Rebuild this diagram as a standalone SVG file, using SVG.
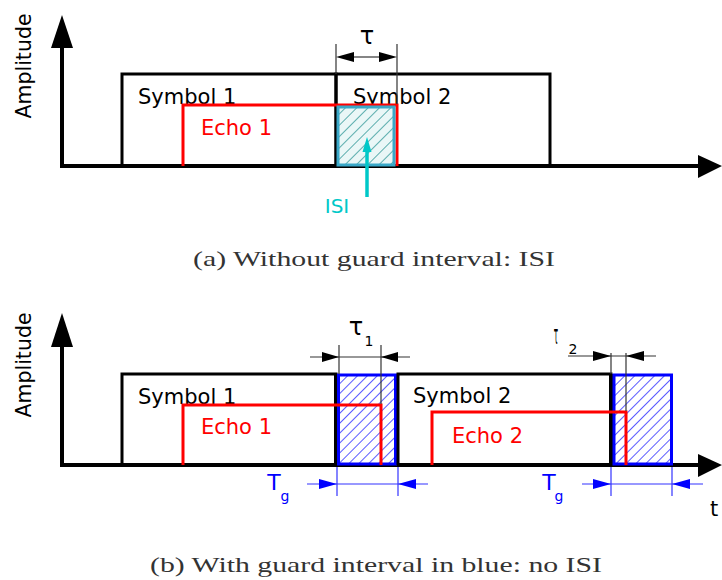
<svg xmlns="http://www.w3.org/2000/svg" width="722" height="580" viewBox="0 0 722 580">
  <defs>
    <pattern id="hatchTeal" patternUnits="userSpaceOnUse" width="8" height="8" patternTransform="rotate(45)">
      <rect width="8" height="8" fill="#eaf7f7"/>
      <line x1="0" y1="0" x2="0" y2="8" stroke="#1f8f8f" stroke-width="1.4"/>
    </pattern>
    <pattern id="hatchBlue" patternUnits="userSpaceOnUse" width="7" height="7" patternTransform="rotate(45)">
      <rect width="7" height="7" fill="#ffffff"/>
      <line x1="0" y1="0" x2="0" y2="7" stroke="#0000ff" stroke-width="1.3"/>
    </pattern>
  </defs>
  <style>
    .axis { stroke: #000; stroke-width: 4; fill: none; }
    .sym { stroke: #000; stroke-width: 3; fill: none; }
    .echo { stroke: #ff0000; stroke-width: 3; fill: none; }
    .dim { stroke: #333; stroke-width: 1.2; fill: none; }
    .bdim { stroke: #3333ff; stroke-width: 1.2; fill: none; }
    .lbl { font-family: "DejaVu Sans", "Noto Sans", sans-serif; font-size: 21px; fill: #000; }
    .red { fill: #ff0000; }
    .blue { fill: #0000ff; }
    .cyan { fill: #00c8c8; }
    .big { font-size: 24px; }
    .sub { font-size: 14px; }
    .amp { font-size: 20.5px; }
    .tg { font-size: 22px; }
    .isi { font-size: 20px; }
    .cap { font-family: "Liberation Serif", "DejaVu Serif", serif; font-size: 22px; fill: #333; }
  </style>

  <!-- ===== Panel (a) ===== -->
  <g id="axes-a">
    <line class="axis" x1="62" y1="168" x2="62" y2="44"/>
    <polygon points="62,15 51,48 73,48" fill="#000"/>
    <line class="axis" x1="60" y1="166" x2="702" y2="166"/>
    <polygon points="722,166 698,155 698,178" fill="#000"/>
    <text class="lbl amp" transform="translate(31,66) rotate(-90)" text-anchor="middle">Amplitude</text>
  </g>
  <g id="symbol1-a">
    <path class="sym" d="M122,166 V74 H336 V166"/>
    <text class="lbl" x="138" y="104">Symbol 1</text>
  </g>
  <g id="symbol2-a">
    <path class="sym" d="M336,166 V74 H550 V166"/>
    <text class="lbl" x="353" y="104">Symbol 2</text>
  </g>
  <g id="echo1-a">
    <path class="echo" d="M183,166 V105 H397 V166"/>
    <text class="lbl red" x="201" y="135">Echo 1</text>
  </g>
  <g id="isi-box">
    <rect x="338" y="107" width="56" height="58" fill="url(#hatchTeal)" stroke="#3aa8c8" stroke-width="3"/>
  </g>
  <g id="connectors-a">
    <line class="dim" x1="336" y1="44" x2="336" y2="74"/>
    <line class="dim" x1="397" y1="44" x2="397" y2="104"/>
    <line class="dim" x1="352" y1="57" x2="381" y2="57"/>
    <polygon points="336,57 354,52 354,62" fill="#000"/>
    <polygon points="397,57 379,52 379,62" fill="#000"/>
    <line x1="367" y1="197" x2="367" y2="150" stroke="#00c8c8" stroke-width="3.5"/>
    <polygon points="367,137 362.5,152 371.5,152" fill="#00c8c8"/>
  </g>
  <g id="labels-a">
    <text class="lbl big" x="367" y="44" text-anchor="middle">τ</text>
    <text class="lbl cyan isi" x="337" y="213" text-anchor="middle">ISI</text>
  </g>
  <text class="cap" x="374" y="266" text-anchor="middle" textLength="362" lengthAdjust="spacingAndGlyphs">(a) Without guard interval: ISI</text>

  <!-- ===== Panel (b) ===== -->
  <g id="axes-b">
    <line class="axis" x1="62" y1="467" x2="62" y2="344"/>
    <polygon points="62,313 51,347 73,347" fill="#000"/>
    <line class="axis" x1="60" y1="465" x2="702" y2="465"/>
    <polygon points="722,465 698,454 698,477" fill="#000"/>
    <text class="lbl amp" transform="translate(31,365) rotate(-90)" text-anchor="middle">Amplitude</text>
    <text class="lbl" x="714" y="516" text-anchor="middle">t</text>
  </g>
  <g id="symbol1-b">
    <path class="sym" d="M122,465 V374 H336 V465"/>
    <line x1="336" y1="374" x2="336" y2="465" stroke="#000" stroke-width="4"/>
    <text class="lbl" x="138" y="404">Symbol 1</text>
  </g>
  <g id="guard1">
    <rect x="338.5" y="375" width="57" height="89" fill="url(#hatchBlue)" stroke="#0000ff" stroke-width="3"/>
  </g>
  <g id="symbol2-b">
    <path class="sym" d="M398,465 V374 H611 V465"/>
    <line x1="611" y1="374" x2="611" y2="465" stroke="#000" stroke-width="4"/>
    <text class="lbl" x="413" y="403">Symbol 2</text>
  </g>
  <g id="guard2">
    <rect x="614" y="375" width="57.5" height="89" fill="url(#hatchBlue)" stroke="#0000ff" stroke-width="3"/>
  </g>
  <g id="echo1-b">
    <path class="echo" d="M183,465 V405 H381 V465"/>
    <text class="lbl red" x="201" y="434">Echo 1</text>
  </g>
  <g id="echo2-b">
    <path class="echo" d="M432,465 V412 H626 V465"/>
    <text class="lbl red" x="452" y="443">Echo 2</text>
  </g>
  <g id="connectors-b">
    <!-- tau1 -->
    <line class="dim" x1="339" y1="345" x2="339" y2="374"/>
    <line class="dim" x1="381" y1="345" x2="381" y2="404"/>
    <line class="dim" x1="310" y1="357" x2="410" y2="357"/>
    <polygon points="339,357 322,352 322,362" fill="#000"/>
    <polygon points="381,357 398,352 398,362" fill="#000"/>
    <!-- tau2 -->
    <line class="dim" x1="611" y1="353" x2="611" y2="374"/>
    <line class="dim" x1="626" y1="353" x2="626" y2="411"/>
    <line class="dim" x1="568" y1="356" x2="656" y2="356"/>
    <polygon points="611,356 593,351 593,361" fill="#000"/>
    <polygon points="626,356 644,351 644,361" fill="#000"/>
    <!-- Tg1 -->
    <line class="bdim" x1="337" y1="467" x2="337" y2="496"/>
    <line class="bdim" x1="398" y1="467" x2="398" y2="496"/>
    <line class="bdim" x1="307" y1="484" x2="428" y2="484"/>
    <polygon points="337,484 319,479 319,489" fill="#0000ff"/>
    <polygon points="398,484 416,479 416,489" fill="#0000ff"/>
    <!-- Tg2 -->
    <line class="bdim" x1="611" y1="467" x2="611" y2="496"/>
    <line class="bdim" x1="672" y1="467" x2="672" y2="496"/>
    <line class="bdim" x1="582" y1="484" x2="703" y2="484"/>
    <polygon points="611,484 593,479 593,489" fill="#0000ff"/>
    <polygon points="672,484 690,479 690,489" fill="#0000ff"/>
  </g>
  <g id="labels-b">
    <text class="lbl big" x="356" y="335" text-anchor="middle">τ</text>
    <text class="lbl sub" x="369" y="346" text-anchor="middle">1</text>
    <text class="lbl big" transform="translate(556,344) scale(0.3,1.1)" text-anchor="middle">τ</text>
    <text class="lbl sub" x="573" y="354" text-anchor="middle">2</text>
    <text class="lbl blue tg" x="274" y="490" text-anchor="middle">T</text>
    <text class="lbl blue sub" x="285" y="501" text-anchor="middle">g</text>
    <text class="lbl blue tg" x="549" y="490" text-anchor="middle">T</text>
    <text class="lbl blue sub" x="559" y="501" text-anchor="middle">g</text>
  </g>
  <text class="cap" x="376" y="572" text-anchor="middle" textLength="452" lengthAdjust="spacingAndGlyphs">(b) With guard interval in blue: no ISI</text>
</svg>
